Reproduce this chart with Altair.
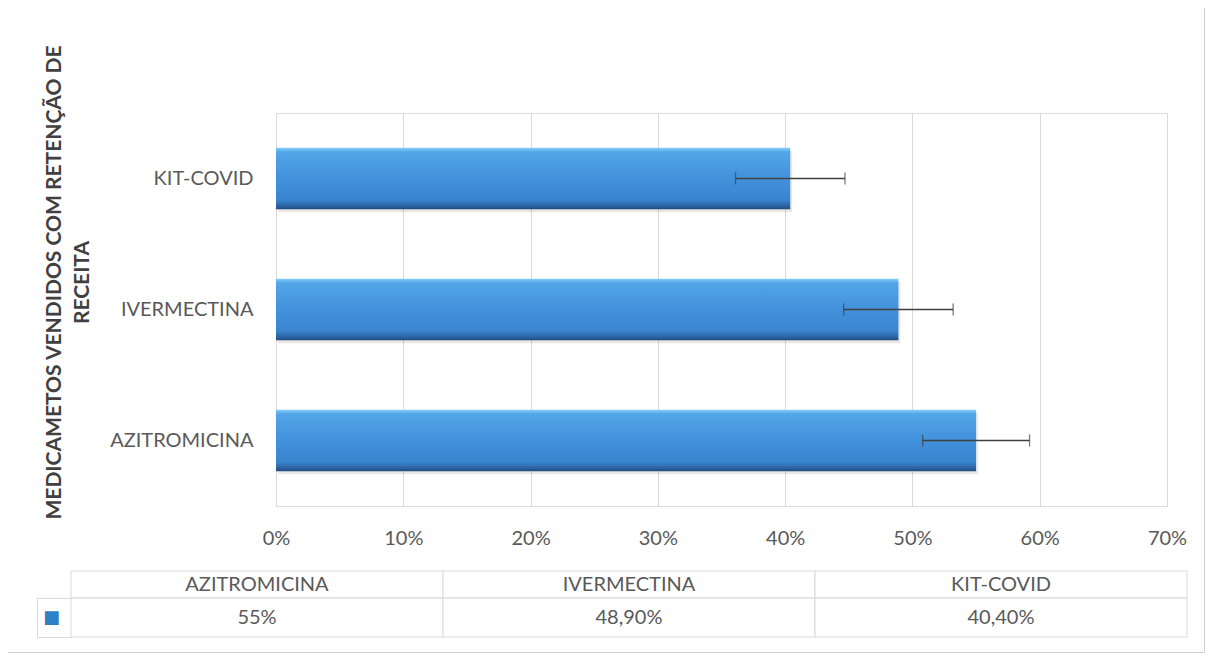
import altair as alt
import pandas as pd

# ---- data ----
categories = ["KIT-COVID", "IVERMECTINA", "AZITROMICINA"]
shares = [0.404, 0.489, 0.55]
errors = [0.043, 0.043, 0.042]
tick_values = [0, 0.1, 0.2, 0.3, 0.4, 0.5, 0.6, 0.7]
table_columns = ["AZITROMICINA", "IVERMECTINA", "KIT-COVID"]
table_values = ["55%", "48,90%", "40,40%"]
y_title = ["MEDICAMETOS VENDIDOS COM RETENÇÃO DE", "RECEITA"]

FONT = "Lato"
GRAY = "#595959"
LINE = "#D9D9D9"

bars_df = pd.DataFrame({"cat": categories, "share": shares, "err": errors})
bars_df["lo"] = bars_df["share"] - bars_df["err"]
bars_df["hi"] = bars_df["share"] + bars_df["err"]

table_df = pd.DataFrame({
    "col": table_columns,
    "value": table_values,
    "row_h": ["header"] * 3,
    "row_v": ["value"] * 3,
})

frame_df = pd.DataFrame({"a": [0], "b": [1]})

# ---- bar chart ----
x_scale = alt.Scale(domain=[0, 0.7], nice=False, zero=True)
x_axis = alt.Axis(values=tick_values, format=".0%", grid=True, gridColor=LINE,
                  gridWidth=1, domain=False, ticks=False, labelPadding=22,
                  labelFontSize=20, labelColor=GRAY, labelFont=FONT,
                  labelFlush=False, title=None)
y_scale = alt.Scale(domain=categories, paddingInner=0.53, paddingOuter=0.265)
y_axis = alt.Axis(domain=False, ticks=False, grid=False, labelPadding=23,
                  labelFontSize=20, labelColor=GRAY, labelFont=FONT,
                  title=y_title, titleFont=FONT, titleFontSize=21,
                  titleFontWeight="bold", titleColor="#404040",
                  titleAngle=270, titleAlign="center", titleBaseline="alphabetic",
                  titleLineHeight=28, titleX=-216, titleY=169)

def X(field):
    return alt.X(f"{field}:Q", scale=x_scale, axis=x_axis, title=None)

Y = alt.Y("cat:N", sort=categories, scale=y_scale, axis=y_axis, title=y_title)

gradient = alt.LinearGradient(
    gradient="linear",
    stops=[
        alt.GradientStop(color="#86CFF8", offset=0),
        alt.GradientStop(color="#52A6E8", offset=0.07),
        alt.GradientStop(color="#4493DD", offset=0.45),
        alt.GradientStop(color="#3A84CE", offset=0.85),
        alt.GradientStop(color="#2A62A0", offset=0.95),
        alt.GradientStop(color="#1E4B7E", offset=1),
    ],
    x1=0, x2=0, y1=0, y2=1,
)

base = alt.Chart(bars_df)
shadow = base.mark_bar(color="#8a7a6a", opacity=0.18, xOffset=2, yOffset=3).encode(x=X("share"), y=Y)
bars = base.mark_bar(color=gradient).encode(x=X("share"), y=Y)
err_rule = base.mark_rule(color="#404040", strokeWidth=1.3).encode(x=X("lo"), x2="hi:Q", y=Y)
err_lo = base.mark_tick(color="#404040", thickness=1.3, size=12).encode(x=X("lo"), y=Y)
err_hi = base.mark_tick(color="#404040", thickness=1.3, size=12).encode(x=X("hi"), y=Y)
bar_part = alt.layer(shadow, bars, err_rule, err_lo, err_hi)

# ---- outer frame of the chart ----
frame = alt.Chart(frame_df).mark_rect(filled=False, stroke="#D0D0D0", strokeWidth=1).encode(
    x=alt.X("a:Q", scale=alt.Scale(domain=[0, 1], range=[-268.5, 928.5], nice=False, zero=False), axis=None),
    x2="b:Q",
    y=alt.Y("a:Q", scale=alt.Scale(domain=[0, 1], range=[-105.5, 539.5], nice=False, zero=False), axis=None),
    y2="b:Q",
)

# ---- data table below ----
t_x = alt.X("col:N", sort=table_columns,
            scale=alt.Scale(domain=table_columns, range=[-205, 911], paddingInner=0, paddingOuter=0),
            axis=None)
tbase = alt.Chart(table_df)

h_y = alt.Y("row_h:N", scale=alt.Scale(domain=["header"], range=[458, 485], paddingInner=0, paddingOuter=0),
            axis=None)
h_rect = tbase.mark_rect(fill="white", stroke=LINE, strokeWidth=1).encode(x=t_x, y=h_y)
h_text = tbase.mark_text(font=FONT, fontSize=20, color=GRAY, baseline="middle", align="center").encode(
    x=t_x, y=h_y, text="col:N")
header = alt.layer(h_rect, h_text)

v_y = alt.Y("row_v:N",
            scale=alt.Scale(domain=["value"], range=[485, 524], paddingInner=0, paddingOuter=0),
            axis=alt.Axis(orient="right", offset=-1130, domain=True, domainColor=LINE,
                          ticks=True, tickBand="extent", tickSize=34, tickColor=LINE,
                          grid=False, labelExpr="datum.value === 'value' ? '■' : ''",
                          labelColor="#2F7FC4",
                          labelFont="DejaVu Sans", labelFontSize=18, labelAlign="center",
                          labelBaseline="middle", labelPadding=-20, title=None))
v_rect = tbase.mark_rect(fill="white", stroke=LINE, strokeWidth=1).encode(x=t_x, y=v_y)
v_text = tbase.mark_text(font=FONT, fontSize=20, color=GRAY, baseline="middle", align="center").encode(
    x=t_x, y=v_y, text="value:N")
values_row = alt.layer(v_rect, v_text)

chart = (
    alt.layer(frame, bar_part, header, values_row)
    .resolve_scale(x="independent", y="independent")
    .properties(
        width=891, height=393,
        autosize=alt.AutoSizeParams(type="none"),
        padding={"left": 268, "top": 105, "right": 38, "bottom": 147},
        background="white",
    )
    .configure_view(stroke=None)
    .configure(font=FONT)
)

chart.save("out.html", embed_options={"renderer": "svg", "actions": False})
